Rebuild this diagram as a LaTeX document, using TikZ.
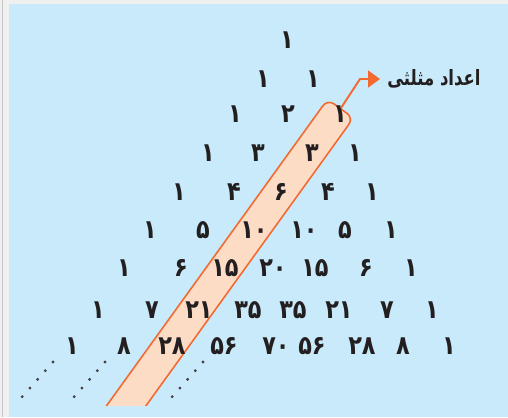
\documentclass[tikz,border=0pt]{standalone}
\usepackage{fontspec}
\usepackage{tikz}
\usetikzlibrary{arrows.meta}
\TeXXeTstate=1
\newfontfamily\farsi[Script=Arabic, FakeStretch=0.85]{DejaVu Sans}
\newfontfamily\farsilabel[Script=Arabic, FakeStretch=0.78]{DejaVu Sans}
\definecolor{sky}{HTML}{C8EAFB}
\definecolor{frame}{HTML}{F0F0F0}
\definecolor{bandfill}{HTML}{FDDCC6}
\definecolor{bandline}{HTML}{F26A30}
\definecolor{ink}{HTML}{231F20}
\tikzstyle{num} = [inner sep=0pt, text=ink, font=\farsi\bfseries\fontsize{15}{17}\selectfont]
\tikzstyle{band} = [rectangle, rounded corners=4.5pt, minimum width=8cm, minimum height=0.64cm, draw=bandline, line width=0.9pt, fill=bandfill]
\tikzstyle{title} = [inner ysep=0pt, inner xsep=0.14cm, text=ink, font=\farsilabel\bfseries\fontsize{12}{14}\selectfont]
\tikzstyle{arrow} = [line width=1.1pt, draw=bandline, -{Triangle[length=0.24cm, width=0.34cm]}]
\tikzstyle{dotline} = [ink!85, line width=1.8pt, line cap=round, dash pattern=on 0pt off 6.6pt]

\begin{document}
\begin{tikzpicture}[x=0.02cm, y=-0.02cm]
\useasboundingbox (0,0) rectangle (508,417);
\fill[frame] (0,0) rectangle (508,417);
\draw[gray!45, line width=0.6pt] (2.5,0) -- (2.5,417);
\fill[sky] (9,4) rectangle (508,417);

% diagonal band
\begin{scope}
\clip (9,4) rectangle (508,405);
\node (band) [band, rotate=54.2, anchor=east] at (341,108) {};
\end{scope}

% rows of the triangle
\foreach \r/\y/\row in {0/40/{287/۱},
                       1/79/{263/۱,313/۱},
                       2/114/{235/۱,288/۲,340/۱},
                       3/153/{208/۱,258/۳,312/۳,355/۱},
                       4/192/{179/۱,234/۴,281/۶,328/۴,372/۱},
                       5/230/{150/۱,203/۵,254/۱۰,304/۱۰,345/۵,391/۱},
                       6/268/{124/۱,181/۶,225/۱۵,273/۲۰,315/۱۵,366/۶,411/۱},
                       7/310/{98/۱,152/۷,199/۲۱,248/۳۵,293/۳۵,339/۲۱,387/۷,432/۱},
                       8/346/{72/۱,124/۸,172/۲۸,224/۵۶,276/۷۰,312/۵۶,362/۲۸,403/۸,449/۱}}
  \foreach \x/\v [count=\c] in \row
    \node (n-\r-\c) [num] at (\x,\y) {\v};

\node (label) [title, anchor=west] at (380,79) {\beginR اعداد مثلثی\endR};
\coordinate (kink) at (360,79);
\draw [arrow] (band.east) -- (kink) -- (label.west);

\draw [dotline] ([shift={(-19,16)}]n-8-1.center) -- ++(-31.5,35.5);
\draw [dotline] ([shift={(-19,16)}]n-8-2.center) -- ++(-31.5,35.5);
\draw [dotline] ([shift={(-21,16)}]n-8-4.center) -- ++(-31.5,35.5);
\end{tikzpicture}
\end{document}
